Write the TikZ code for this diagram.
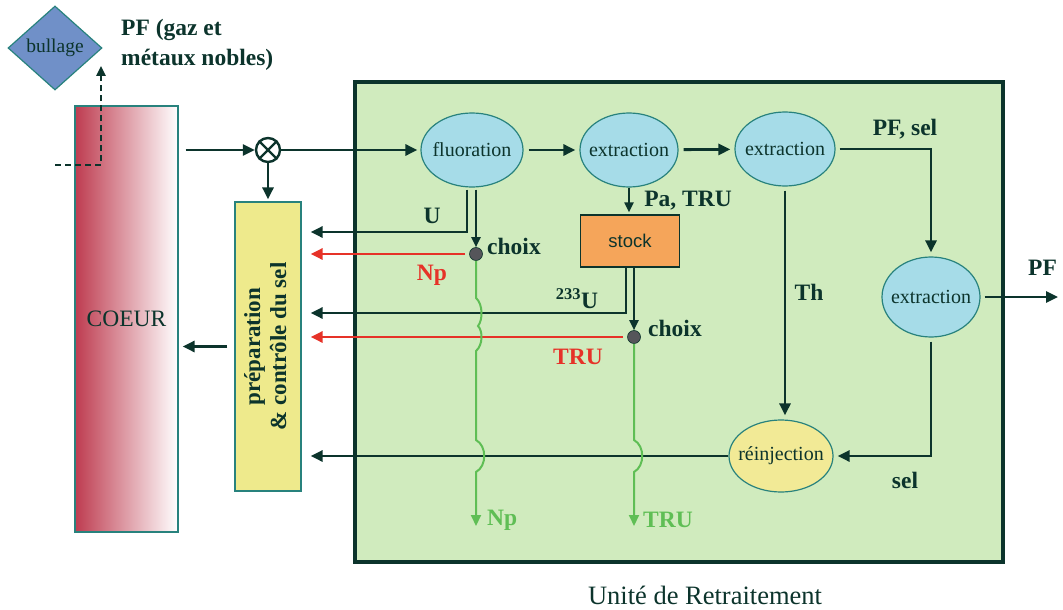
\documentclass[tikz,border=0pt]{standalone}
\usepackage{fontspec}
\setmainfont{Liberation Serif}
\newfontfamily\mysans{Liberation Sans}
\usetikzlibrary{shapes.geometric,arrows.meta,calc}
\definecolor{dk}{RGB}{12,52,44}
\definecolor{tealb}{RGB}{40,130,125}
\definecolor{gbox}{RGB}{208,235,190}
\definecolor{lblue}{RGB}{166,220,232}
\definecolor{yel}{RGB}{238,234,140}
\definecolor{yel2}{RGB}{242,234,150}
\definecolor{orng}{RGB}{245,165,90}
\definecolor{bul}{RGB}{112,144,200}
\definecolor{coeurred}{RGB}{190,60,80}
\definecolor{rd}{RGB}{230,50,40}
\definecolor{gr}{RGB}{95,190,85}
\definecolor{dotc}{RGB}{85,85,90}
\newcommand\labfont{\fontsize{23.5}{27}\selectfont\bfseries}
\newcommand\ellfont{\fontsize{20}{22}\selectfont}
\newcommand\zw[1]{\makebox[0pt]{#1}}
\tikzset{
  cline/.style={draw=dk, line width=2.8pt},
  arr/.style={cline, -{Triangle[length=12pt,width=11pt]}},
  thinarr/.style={draw=dk, line width=2pt, -{Triangle[length=10pt,width=9pt]}},
  redarr/.style={draw=rd, line width=2.8pt, -{Triangle[length=12pt,width=11pt]}},
  grarr/.style={draw=gr, line width=2pt, -{Triangle[length=11pt,width=10pt]}},
  ell/.style={ellipse, draw=tealb, line width=1.2pt, fill=lblue, inner sep=0pt, font=\ellfont, text=dk},
  lab/.style={font=\labfont, text=dk, inner sep=0pt},
  redlab/.style={font=\labfont, text=rd, inner sep=0pt},
  grlab/.style={font=\labfont, text=gr, inner sep=0pt},
  choixdot/.style={circle, fill=dotc, draw=dk, line width=0.6pt, minimum size=13pt, inner sep=0pt},
}
\begin{document}
\begin{tikzpicture}[x=1pt,y=-1pt]
\useasboundingbox (0,0) rectangle (1063,610);
% boxes
\node[draw=dk, line width=3.5pt, fill=gbox, minimum width=648pt, minimum height=480pt, inner sep=0pt] (unit) at (679,322) {};
\node[font=\fontsize{26.5}{30}\selectfont, text=dk] (unitlab) at (705,595) {Unité de Retraitement};
\node[draw=tealb, line width=1.2pt, left color=coeurred, right color=white, minimum width=103pt, minimum height=426pt, inner sep=0pt, font=\fontsize{23.5}{26}\selectfont, text=dk] (coeur) at (126.5,319) {COEUR};
\node[draw=tealb, line width=1.2pt, fill=yel, minimum width=66pt, minimum height=289pt, inner sep=0pt, text=dk] (prep) at (268,346.5)
  {\rotatebox{90}{\fontsize{23}{26}\selectfont\bfseries\begin{tabular}{@{}c@{}}préparation\\\& contrôle du sel\end{tabular}}};
\node[diamond, aspect=1.12, draw=tealb, line width=1.2pt, fill=bul, minimum width=94pt, minimum height=84pt, inner sep=0pt, font=\fontsize{19.5}{21}\selectfont, text=dk] (bullage) at (55,48) {\zw{bullage}};
\node[lab, anchor=west, align=left, font=\fontsize{23.5}{30}\selectfont\bfseries] (pfgaz) at (121,45) {PF (gaz et\\métaux nobles)};
\node[circle, draw=dk, line width=2.4pt, minimum size=24pt, inner sep=0pt] (ox) at (268,150) {};
\draw[dk, line width=2.2pt] (ox.45) -- (ox.225) (ox.135) -- (ox.315);
% ellipses
\node[ell, minimum width=102pt, minimum height=74pt] (fluor) at (472,150) {\zw{fluoration}};
\node[ell, minimum width=98pt, minimum height=74pt] (ext1) at (629,150) {\zw{extraction}};
\node[ell, minimum width=100pt, minimum height=74pt] (ext2) at (785,149) {\zw{extraction}};
\node[ell, minimum width=98pt, minimum height=80pt] (ext3) at (931,297) {\zw{extraction}};
\node[ell, fill=yel2, minimum width=104pt, minimum height=72pt] (reinj) at (781,456) {\zw{réinjection}};
\node[draw=dk, line width=1.2pt, fill=orng, minimum width=99pt, minimum height=52pt, inner sep=0pt, font=\mysans\fontsize{18.5}{20}\selectfont, text=dk] (stock) at (630,241) {stock};
% coordinates
\coordinate (dstart) at (55,165);
\coordinate (dend) at (101,66);
\coordinate (uturn) at (467,232);
\coordinate (u233turn) at (626,313);
\coordinate (pfout) at (1058,297);
\coordinate (npend) at (476,526);
\coordinate (truend) at (634,526);
\node[choixdot] (dot1) at (476,254) {};
\node[choixdot] (dot2) at (634,337) {};
% dashed
\draw[dk, line width=2.4pt, dash pattern=on 6pt off 4pt, -{Triangle[length=10pt,width=9pt]}] (dstart) -| (dend);
% main connectors
\draw[arr, shorten <=7pt] (coeur.east |- ox) -- (ox);
\draw[arr, shorten >=3pt] (ox) -- (fluor);
\draw[arr, shorten >=2pt] (ox) -- (prep);
\draw[arr, shorten <=7pt, shorten >=4pt] (prep.west) -- (coeur.east |- prep.west);
\draw[arr, shorten <=5pt, shorten >=4pt] (fluor) -- (ext1);
\draw[arr, shorten <=5pt, shorten >=4pt] (ext1) -- (ext2);
\draw[arr, shorten <=4pt, shorten >=4pt] (ext2.east) -- (ext3 |- ext2.east) -- (ext3.north);
\draw[arr, shorten <=4pt] (ext3.east) -- (pfout);
\draw[arr, shorten <=4pt, shorten >=4pt] (ext3.south) -- (ext3 |- reinj) -- (reinj.east);
\draw[arr, shorten <=4pt, shorten >=4pt] (ext2.south) -- (ext2.south |- reinj.north);
\draw[arr, shorten >=9pt] (reinj.west) -- (prep.east |- reinj);
\draw[thinarr, shorten >=2pt] (ext1.south) -- (ext1.south |- stock.north);
% fluoration outputs
\draw[arr, shorten <=2pt, shorten >=9pt] (fluor.south -| uturn) -- (uturn) -- (prep.east |- uturn);
\draw[thinarr, shorten <=2pt] (fluor.south -| dot1) -- (dot1.north);
\draw[redarr, shorten <=4pt, shorten >=9pt] (dot1) -- (prep.east |- dot1);
% stock outputs
\draw[arr, shorten >=9pt] (stock.south -| u233turn) -- (u233turn) -- (prep.east |- u233turn);
\draw[thinarr] (stock.south -| dot2) -- (dot2.north);
\draw[redarr, shorten <=4pt, shorten >=9pt] (dot2) -- (prep.east |- dot2);
% green outputs with jumps
\draw[grarr] (dot1.south) -- (476,298) .. controls (483,304) and (483,320) .. (478,326) .. controls (483,331) and (483,345) .. (476,351) -- (476,440) .. controls (487,446) and (487,466) .. (476,472) -- (npend);
\draw[grarr] (dot2.south) -- (634,440) .. controls (645,446) and (645,466) .. (634,472) -- (truend);
% labels
\node[lab] (lu) at (432,216) {U};
\node[lab] (lchoix1) at (514,246) {choix};
\node[redlab] (lnp) at (432,275) {Np};
\node[lab] (lu233) at (577,299) {\textsuperscript{233}U};
\node[lab] (lchoix2) at (675,328) {choix};
\node[redlab] (ltru) at (578,357) {TRU};
\node[lab] (lpatru) at (688,201) {Pa, TRU};
\node[lab] (lth) at (809,292) {Th};
\node[lab] (lpfsel) at (905,129) {PF, sel};
\node[lab, anchor=west] (lpf) at (1028,268) {PF};
\node[lab] (lsel) at (905,480) {sel};
\node[grlab, anchor=west] (lnpg) at (487,520) {Np};
\node[grlab, anchor=west] (ltrug) at (643,520) {TRU};
\end{tikzpicture}
\end{document}
